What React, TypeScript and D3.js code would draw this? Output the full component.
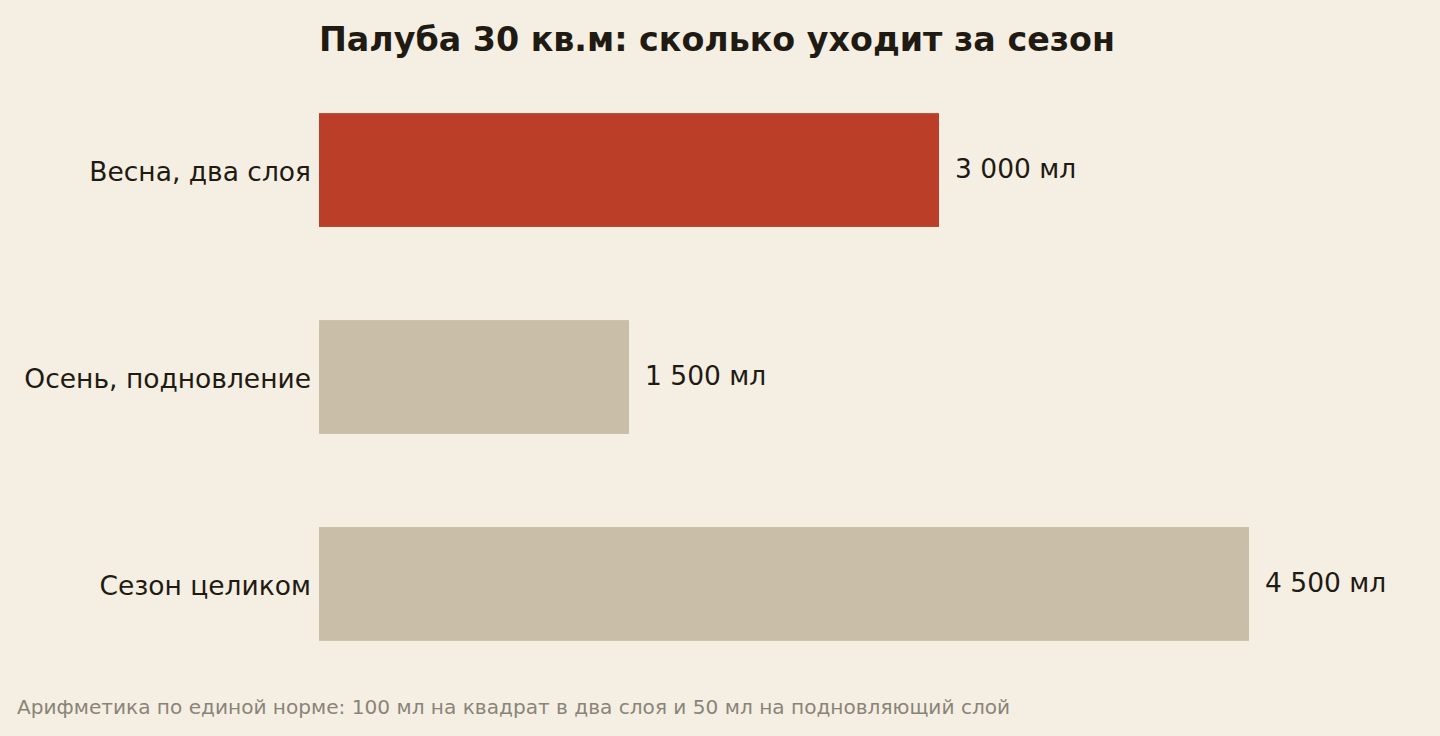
import React from "react";
import * as d3 from "d3";

const categories = ["Весна, два слоя", "Осень, подновление", "Сезон целиком"];
const values = [3000, 1500, 4500];
const highlight = [true, false, false];
const valueUnit = "мл";
const title = "Палуба 30 кв.м: сколько уходит за сезон";
const footnote = "Арифметика по единой норме: 100 мл на квадрат в два слоя и 50 мл на подновляющий слой";

const W = 1440;
const H = 736;
const FONT = "'DejaVu Sans', sans-serif";

export default function App() {
  const x = d3.scaleLinear().domain([0, 4500]).range([319, 1249]);
  const y = d3.scaleBand<string>().domain(categories).range([20, 734]).paddingInner(0.45).paddingOuter(0.45);
  const fmt = (v: number) => d3.format(",")(v).replace(/,/g, " ") + " " + valueUnit;

  return (
    <svg width={W} height={H} style={{ position: "fixed", left: 0, top: 0, display: "block" }} fontFamily={FONT}>
      <rect x={0} y={0} width={W} height={H} fill="#f5efe3" />
      <text x={319} y={51} fontSize={33.3} fontWeight="bold" fill="#1f1a12">{title}</text>
      {categories.map((c, i) => {
        const y0 = y(c)!;
        const bw = y.bandwidth();
        const cy = y0 + bw / 2;
        return (
          <g key={c}>
            <rect x={x(0)} y={y0} width={x(values[i]) - x(0)} height={bw} fill={highlight[i] ? "#bb3e28" : "#c9bfa8"} />
            <text x={311} y={cy + 11} textAnchor="end" fontSize={26.5} fill="#1f1a12">{c}</text>
            <text x={x(values[i]) + 16} y={cy + 8} fontSize={26.5} fill="#1f1a12">{fmt(values[i])}</text>
          </g>
        );
      })}
      <text x={17} y={714} fontSize={20.1} fill="#8a8478">{footnote}</text>
    </svg>
  );
}
